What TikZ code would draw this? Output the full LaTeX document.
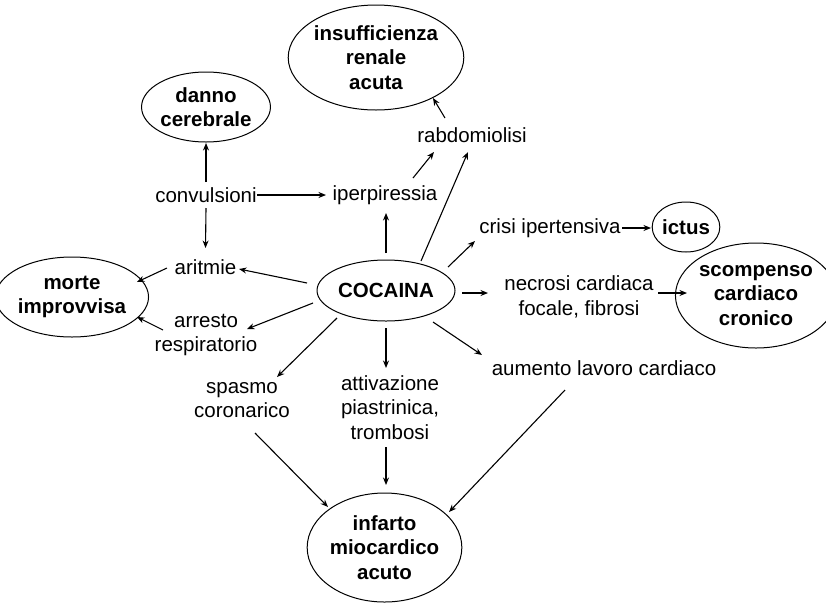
\documentclass[tikz,border=0pt]{standalone}
\usepackage{fontspec}
\setmainfont{Liberation Sans}
\usetikzlibrary{shapes.geometric,arrows.meta}
\begin{document}
\begin{tikzpicture}[x=1pt,y=-1pt,
  lbl/.style={inner sep=0pt,align=center,font=\fontsize{20.5}{24.5}\selectfont},
  oval/.style={ellipse,draw,line width=1pt,inner sep=0pt,align=center,
    font=\fontsize{20.5}{24.5}\selectfont\bfseries},
  arr/.style={line width=1.1pt,-{Stealth[length=7.5pt,width=6pt]}}]
\useasboundingbox (0,0) rectangle (826,603);
% ellipses
\node[oval,minimum width=158pt,minimum height=105pt] (I) at (376,57.5) {insufficienza\\renale\\acuta};
\node[oval,minimum width=112pt,minimum height=70pt] (D) at (206,107) {danno\\cerebrale};
\node[oval,minimum width=130pt,minimum height=80pt] (M) at (72,297) {morte\\improvvisa};
\node[oval,minimum width=138pt,minimum height=61pt] (K) at (386,290.5) {COCAINA};
\node[oval,minimum width=66pt,minimum height=50pt] (T) at (686,227) {ictus};
\node[oval,minimum width=138pt,minimum height=105pt] (Z) at (756,295.5) {scompenso\\cardiaco\\cronico};
\node[oval,minimum width=139pt,minimum height=109pt] (F) at (384.5,547.5) {infarto\\miocardico\\acuto};
% text nodes
\node[lbl] (R) at (472,135) {rabdomiolisi};
\node[lbl] (C) at (206,195) {convulsioni};
\node[lbl] (P) at (385,195) {iperpiressia};
\node[lbl] (A) at (205.5,267) {aritmie};
\node[lbl] (S) at (550,228) {crisi ipertensiva};
\node[lbl] (N) at (579,297) {necrosi cardiaca\\focale, fibrosi};
\node[lbl] (Q) at (206,335) {arresto\\respiratorio};
\node[lbl] (X) at (242,400) {spasmo\\coronarico};
\node[lbl] (V) at (390,407.5) {attivazione\\piastrinica,\\trombosi};
\node[lbl] (U) at (604,368) {aumento lavoro cardiaco};
% connectors
\draw[arr] ([shift={(0,-13)}]C.center) -- ([shift={(0,36)}]D.center);
\draw[arr] ([shift={(0,13)}]C.center) -- ([shift={(0,-19)}]A.center);
\draw[arr] ([shift={(51,0)}]C.center) -- ([shift={(-59,0)}]P.center);
\draw[arr] ([shift={(28,-17)}]P.center) -- ([shift={(-38,17)}]R.center);
\draw[arr] ([shift={(-27,-17)}]R.center) -- ([shift={(57,40.5)}]I.center);
\draw[arr] ([shift={(35,-29.5)}]K.center) -- ([shift={(-4,17)}]R.center);
\draw[arr] ([shift={(0,-37.5)}]K.center) -- ([shift={(1,18)}]P.center);
\draw[arr] ([shift={(-79,-7.5)}]K.center) -- ([shift={(33.5,2)}]A.center);
\draw[arr] ([shift={(-38.5,1)}]A.center) -- ([shift={(65,-15)}]M.center);
\draw[arr] ([shift={(-73,12.5)}]K.center) -- ([shift={(41,-6)}]Q.center);
\draw[arr] ([shift={(-43,-5)}]Q.center) -- ([shift={(65,20)}]M.center);
\draw[arr] ([shift={(-49,27.5)}]K.center) -- ([shift={(35,-23)}]X.center);
\draw[arr] ([shift={(0,37.5)}]K.center) -- ([shift={(-4,-39.5)}]V.center);
\draw[arr] ([shift={(62,-23.5)}]K.center) -- ([shift={(-75,13)}]S.center);
\draw[arr] ([shift={(72,0)}]S.center) -- ([shift={(-35,1)}]T.center);
\draw[arr] ([shift={(76,2.5)}]K.center) -- ([shift={(-91,-4)}]N.center);
\draw[arr] ([shift={(79,-4)}]N.center) -- ([shift={(-69,-2.5)}]Z.center);
\draw[arr] ([shift={(47,31.5)}]K.center) -- ([shift={(-122,-13)}]U.center);
\draw[arr] ([shift={(-39,22)}]U.center) -- ([shift={(64.5,-35.5)}]F.center);
\draw[arr] ([shift={(13,33)}]X.center) -- ([shift={(-56.5,-40.5)}]F.center);
\draw[arr] ([shift={(-4,39.5)}]V.center) -- ([shift={(1.5,-62.5)}]F.center);
\end{tikzpicture}
\end{document}
